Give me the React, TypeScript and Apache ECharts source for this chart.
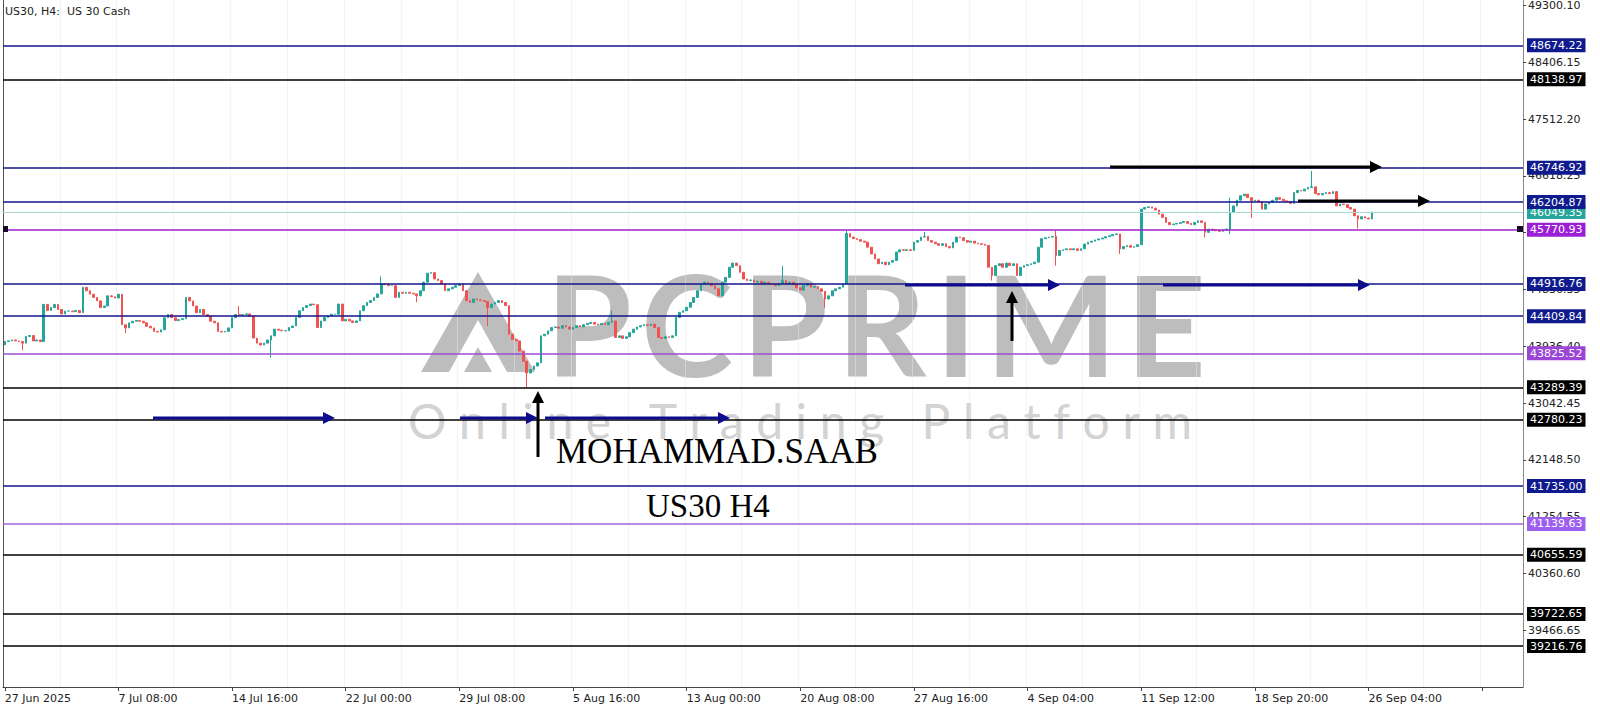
import React, { useEffect, useRef } from "react";
import * as echarts from "echarts";

// ---------- data ----------
const tickLabels = [
  "27 Jun 2025", "7 Jul 08:00", "14 Jul 16:00", "22 Jul 00:00", "29 Jul 08:00",
  "5 Aug 16:00", "13 Aug 00:00", "20 Aug 08:00", "27 Aug 16:00", "4 Sep 04:00",
  "11 Sep 12:00", "18 Sep 20:00", "26 Sep 04:00",
];
const BARS_PER_LABEL = 32;
const TOTAL_SLOTS = 428;

const firstOpen = 43960;
// H4 closes
const closes = [
  44010, 44020, 44035, 44020, 44010, 43985, 44090, 44105, 44020, 44035,
  44010, 44595, 44500, 44545, 44595, 44515, 44445, 44490, 44490, 44480,
  44500, 44465, 44865, 44810, 44755, 44705, 44650, 44545, 44570, 44730,
  44715, 44695, 44755, 44275, 44225, 44305, 44330, 44340, 44330, 44305,
  44250, 44225, 44170, 44160, 44195, 44385, 44435, 44385, 44340, 44355,
  44370, 44705, 44650, 44570, 44465, 44515, 44435, 44410, 44330, 44305,
  44170, 44160, 44170, 44225, 44385, 44435, 44425, 44435, 44445, 44410,
  44065, 43985, 43955, 43985, 44035, 44100, 44205, 44190, 44180, 44180,
  44230, 44255, 44390, 44495, 44545, 44575, 44600, 44590, 44230, 44335,
  44390, 44415, 44440, 44440, 44600, 44335, 44360, 44335, 44310, 44335,
  44495, 44575, 44625, 44655, 44705, 44760, 44915, 44905, 44890, 44890,
  44705, 44785, 44770, 44785, 44770, 44760, 44730, 44810, 44945, 45085,
  45095, 44995, 44970, 44915, 44810, 44840, 44865, 44890, 44915, 44810,
  44655, 44625, 44680, 44665, 44655, 44640, 44545, 44600, 44625, 44655,
  44625, 44575, 44125, 44045, 44020, 43860, 43700, 43515, 43570, 43625,
  43675, 44100, 44125, 44180, 44230, 44240, 44220, 44260, 44240, 44205,
  44230, 44260, 44240, 44275, 44295, 44310, 44285, 44275, 44295, 44275,
  44310, 44335, 44075, 44100, 44060, 44085, 44150, 44205, 44240, 44260,
  44275, 44260, 44285, 44230, 44075, 44060, 44085, 44075, 44100, 44390,
  44470, 44495, 44550, 44625, 44705, 44810, 44915, 44945, 44925, 44890,
  44840, 44730, 44945, 45020, 45180, 45245, 45205, 45100, 44995, 44970,
  44980, 44945, 44960, 44925, 44945, 44915, 44905, 44890, 44925, 44970,
  44915, 44945, 44905, 44855, 44820, 44890, 44915, 44865, 44875, 44840,
  44800, 44680, 44730, 44810, 44840, 44865, 44915, 45710, 45655, 45630,
  45615, 45590, 45575, 45495, 45390, 45310, 45235, 45260, 45220, 45260,
  45285, 45420, 45455, 45445, 45455, 45445, 45575, 45600, 45655, 45665,
  45600, 45575, 45550, 45525, 45550, 45505, 45485, 45575, 45655, 45645,
  45600, 45575, 45590, 45560, 45550, 45540, 45525, 45180, 45050, 45205,
  45235, 45180, 45245, 45205, 45235, 45050, 45180, 45205, 45220, 45235,
  45260, 45495, 45630, 45645, 45655, 45665, 45365, 45445, 45455, 45470,
  45455, 45470, 45445, 45470, 45545, 45575, 45590, 45610, 45625, 45640,
  45660, 45675, 45695, 45705, 45470, 45505, 45520, 45495, 45505, 45535,
  46095, 46120, 46130, 46110, 46080, 46015, 45965, 45885, 45850, 45860,
  45870, 45885, 45900, 45870, 45850, 45885, 45910, 45885, 45730, 45780,
  45765, 45755, 45745, 45765, 45780, 46040, 46145, 46235, 46305, 46330,
  46275, 46225, 46235, 46215, 46095, 46175, 46200, 46235, 46275, 46250,
  46225, 46215, 46185, 46355, 46390, 46380, 46410, 46435, 46445, 46340,
  46320, 46340, 46355, 46340, 46370, 46145, 46175, 46165, 46120, 46095,
  45990, 45940, 45975, 45955, 45940, 46049,
];
// visible wicks: [bar index, high, low]  (null = none beyond body)
const wicks: [number, number | null, number | null][] = [
  [5, null, 43870], [34, null, 44145], [66, 44570, null], [75, null, 43755],
  [106, 45035, null], [116, null, 44630], [136, null, 44255], [147, null, 43290],
  [171, 44495, null], [219, 45205, null], [231, null, 44545], [237, 45760, null],
  [259, 45735, null], [278, null, 44970], [296, 45760, 45205], [314, null, 45390],
  [338, null, 45650], [345, 46275, 45700], [351, null, 45955], [368, 46695, null],
  [381, null, 45790],
];

const yTicks = [
  49300.1, 48406.15, 47512.2, 46618.25, 45724.3, 44830.35, 43936.4,
  43042.45, 42148.5, 41254.55, 40360.6, 39466.65,
];

const levelValues = [
  48674.22, 48138.97, 46746.92, 46049.35, 46204.87, 45770.93, 44916.76,
  44409.84, 43825.52, 43289.39, 42780.23, 41735.0, 41139.63, 40655.59,
  39722.65, 39216.76,
];
const levelKinds = [
  "navy", "black", "navy", "teal", "navy", "purple1", "navy",
  "navy", "purple2", "black", "black", "navy", "purple3", "black",
  "black", "black",
];

const Y_MIN = 38572;
const Y_MAX = 49380;

const STYLE: Record<string, { line: string; bg: string; w: number }> = {
  navy: { line: "#14148c", bg: "#0f1a8c", w: 1.5 },
  black: { line: "#000000", bg: "#000000", w: 1.5 },
  teal: { line: "#a6d7d1", bg: "#26a69a", w: 1 },
  purple1: { line: "#a020c8", bg: "#9b1fd6", w: 1.5 },
  purple2: { line: "#9b4fd0", bg: "#9a45d6", w: 1.5 },
  purple3: { line: "#a063e6", bg: "#9d5ff0", w: 1.5 },
};

// ---------- helpers ----------
function spacedText(
  str: string, x0: number, yMid: number, size: number, family: string,
  weight: string, ls: number, color: string, z: number
) {
  const canvas = document.createElement("canvas");
  const ctx = canvas.getContext("2d")!;
  const font = `${weight} ${size}px ${family}`;
  ctx.font = font;
  const els: any[] = [];
  let x = x0;
  for (const ch of str) {
    if (ch !== " ") {
      els.push({
        type: "text", x, y: yMid, z, silent: true,
        style: { text: ch, fill: color, font, align: "left", verticalAlign: "middle" },
      });
    }
    x += ctx.measureText(ch).width + ls;
  }
  return els;
}

function hArrow(x1: number, x2: number, y: number, color: string, w = 3, head = 12, half = 6) {
  return [
    { type: "line", z: 20, silent: true, shape: { x1, y1: y, x2: x2 - head + 1, y2: y }, style: { stroke: color, lineWidth: w } },
    { type: "polygon", z: 20, silent: true, shape: { points: [[x2 - head, y - half], [x2, y], [x2 - head, y + half]] }, style: { fill: color } },
  ];
}
function vArrowUp(x: number, yBottom: number, yTop: number, color: string, w = 3, head = 12, half = 6) {
  return [
    { type: "line", z: 20, silent: true, shape: { x1: x, y1: yBottom, x2: x, y2: yTop + head - 1 }, style: { stroke: color, lineWidth: w } },
    { type: "polygon", z: 20, silent: true, shape: { points: [[x - half, yTop + head], [x, yTop], [x + half, yTop + head]] }, style: { fill: color } },
  ];
}

export default function App() {
  const ref = useRef<HTMLDivElement>(null);
  useEffect(() => {
    if (!ref.current) return;
    const chart = echarts.init(ref.current, undefined, { renderer: "svg" });

    const cats = Array.from({ length: TOTAL_SLOTS }, (_, i) => String(i));
    const candles = closes.map((c, i) => {
      const o = i === 0 ? firstOpen : closes[i - 1];
      return [o, c, Math.min(o, c), Math.max(o, c)];
    });
    wicks.forEach(([i, h, l]) => {
      if (h != null) candles[i][3] = Math.max(candles[i][3], h);
      if (l != null) candles[i][2] = Math.min(candles[i][2], l);
    });

    const markData = levelValues.map((v, k) => {
      const s = STYLE[levelKinds[k]];
      return {
        yAxis: v,
        lineStyle: { color: s.line, width: s.w, type: "solid" },
        label: {
          show: true, position: "end", distance: 4,
          formatter: () => v.toFixed(2),
          color: "#ffffff", backgroundColor: s.bg,
          padding: [1, 3, 0, 3], fontSize: 11, fontFamily: "DejaVu Sans",
          lineHeight: 13,
        },
      };
    });

    const graphics: any[] = [
      // watermark logo
      {
        type: "polygon", z: 0, silent: true,
        shape: { points: [[478, 272], [535, 372], [507, 372], [478, 320], [449, 372], [421, 372]] },
        style: { fill: "#bdbdbd" },
      },
      {
        type: "polygon", z: 0, silent: true,
        shape: { points: [[478, 347], [492, 372], [464, 372]] },
        style: { fill: "#bdbdbd" },
      },
      ...spacedText("PCPRIME", 546, 323, 139, "Lato", "bold", 9, "#bdbdbd", 0),
      ...spacedText("Online Trading Platform", 408, 420, 48, "Lato", "normal", 12.6, "#d3d3d3", 0),
      // left border
      { type: "line", z: 5, silent: true, shape: { x1: 3.5, y1: 0, x2: 3.5, y2: 687 }, style: { stroke: "#555", lineWidth: 1 } },
      // small markers on 45770.93 line
      { type: "rect", z: 21, silent: true, shape: { x: 3, y: 226, width: 5, height: 6 }, style: { fill: "#1a0a2a" } },
      { type: "rect", z: 21, silent: true, shape: { x: 1517, y: 226, width: 6, height: 6 }, style: { fill: "#1a0a2a" } },
      // title
      {
        type: "text", x: 5, y: 11, z: 20, silent: true,
        style: { text: "US30, H4:\u00a0 US 30 Cash", fill: "#222", fontSize: 11, fontFamily: "DejaVu Sans", verticalAlign: "middle" },
      },
      // annotations text
      {
        type: "text", x: 556, y: 451, z: 20, silent: true,
        style: { text: "MOHAMMAD.SAAB", fill: "#000", fontSize: 35, fontFamily: "Liberation Serif", verticalAlign: "middle" },
      },
      {
        type: "text", x: 646, y: 506, z: 20, silent: true,
        style: { text: "US30 H4", fill: "#000", fontSize: 33, fontFamily: "Liberation Serif", verticalAlign: "middle" },
      },
      // arrows
      ...hArrow(153, 335, 418, "#0c0c8c"),
      ...hArrow(460, 538, 418, "#0c0c8c"),
      ...hArrow(545, 730, 418, "#0c0c8c"),
      ...hArrow(905, 1060, 285, "#0c0c8c"),
      ...hArrow(1163, 1370, 285, "#0c0c8c"),
      ...hArrow(1110, 1382, 167, "#000000"),
      ...hArrow(1298, 1430, 201, "#000000"),
      ...vArrowUp(538, 457, 391, "#000000"),
      ...vArrowUp(1012, 341, 291, "#000000"),
    ];

    chart.setOption({
      animation: false,
      backgroundColor: "#ffffff",
      grid: { left: 3, right: 77, top: 0, bottom: 24, show: false },
      xAxis: {
        type: "category",
        data: cats,
        boundaryGap: true,
        axisLine: { show: true, lineStyle: { color: "#444", width: 1 } },
        axisTick: {
          show: true, alignWithLabel: true, length: 4,
          interval: (i: number) => i % BARS_PER_LABEL === 0,
          lineStyle: { color: "#444" },
        },
        axisLabel: {
          interval: (i: number) => i % BARS_PER_LABEL === 0,
          formatter: (_v: string, i: number) => tickLabels[i / BARS_PER_LABEL] ?? "",
          align: "left", fontSize: 11, color: "#222", fontFamily: "DejaVu Sans", margin: 6,
        },
        splitLine: {
          show: true,
          interval: (i: number) => i % (BARS_PER_LABEL / 2) === 0,
          lineStyle: { color: "#e8e8e8", type: "dotted", width: 1 },
        },
      },
      yAxis: {
        type: "value",
        position: "right",
        min: Y_MIN,
        max: Y_MAX,
        axisLine: { show: true, lineStyle: { color: "#888", width: 1 } },
        axisTick: { show: true, customValues: yTicks, length: 3, lineStyle: { color: "#444" } },
        axisLabel: {
          customValues: yTicks, formatter: (v: number) => v.toFixed(2),
          color: "#222", fontSize: 11, fontFamily: "DejaVu Sans", margin: 5,
        },
        splitLine: { show: false },
      },
      series: [
        {
          type: "candlestick",
          data: candles,
          barWidth: 2.2,
          z: 3,
          itemStyle: {
            color: "#26a69a", color0: "#ef5350",
            borderColor: "#26a69a", borderColor0: "#ef5350", borderWidth: 1,
          },
        },
        {
          type: "line",
          data: [],
          z: 4,
          clip: false,
          markLine: {
            silent: true,
            symbol: ["none", "none"],
            animation: false,
            data: markData,
          },
        },
      ],
      graphic: graphics,
    });

    return () => chart.dispose();
  }, []);

  return (
    <div
      ref={ref}
      style={{ position: "absolute", left: 0, top: 0, width: 1600, height: 711 }}
    />
  );
}
